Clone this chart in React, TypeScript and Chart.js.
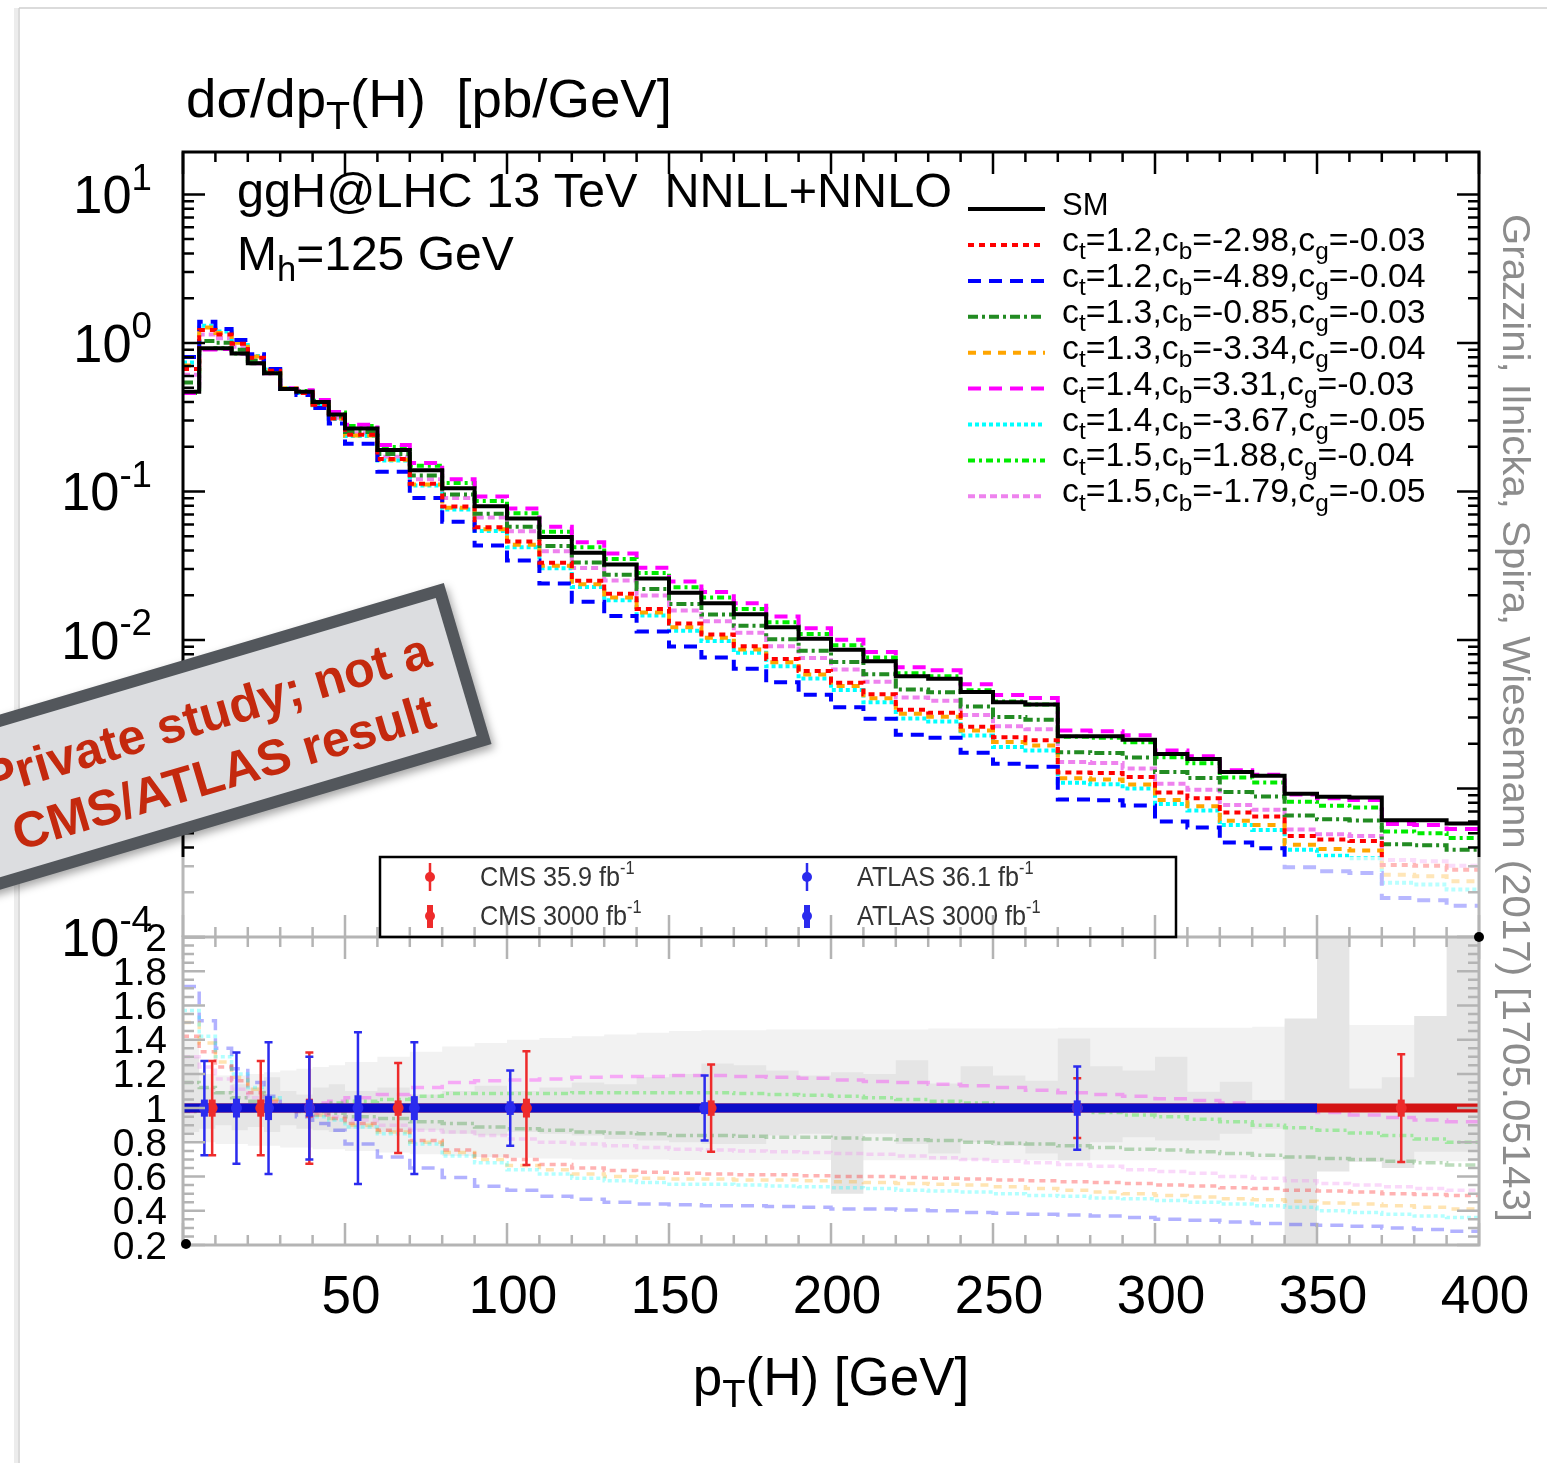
import React, { useEffect, useRef } from "react";
import { Chart, registerables } from "chart.js";

Chart.register(...registerables);

const W = 1547;
const H = 1463;
const FONT = '"Liberation Sans", Arial, Helvetica, sans-serif';

// ---------------- data ----------------
// pT(H) bin edges [GeV]
const binEdges = [0, 5, 10, 15, 20, 25, 30, 35, 40, 45, 50, 60, 70, 80, 90, 100, 110, 120, 130, 140, 150, 160, 170, 180, 190, 200, 210, 220, 230, 240, 250, 260, 270, 280, 290, 300, 310, 320, 330, 340, 350, 360, 370, 380, 390, 400];

// SM dsigma/dpT [pb/GeV] per bin
const smXsec = [0.47, 0.92, 0.92, 0.85, 0.73, 0.625, 0.49, 0.47, 0.40, 0.33, 0.265, 0.19, 0.139, 0.105, 0.0796, 0.0658, 0.0494, 0.0386, 0.0322, 0.0259, 0.0208, 0.0177, 0.0149, 0.0122, 0.0102, 0.0086, 0.00718, 0.00569, 0.00548, 0.00446, 0.00381, 0.00368, 0.00225, 0.00225, 0.00213, 0.00171, 0.00158, 0.00129, 0.00122, 0.00092, 0.00088, 0.00087, 0.00061, 0.00061, 0.00058];

// ratio to SM per bin for each coupling point (legend order)
const ratioCt12Cb298 = [1.42, 1.33, 1.24, 1.16, 1.09, 1.04, 1.0, 0.98, 0.96, 0.94, 0.91, 0.87, 0.81, 0.755, 0.72, 0.70, 0.67, 0.65, 0.635, 0.625, 0.62, 0.615, 0.61, 0.61, 0.605, 0.60, 0.60, 0.595, 0.59, 0.585, 0.58, 0.575, 0.57, 0.565, 0.56, 0.55, 0.545, 0.535, 0.53, 0.52, 0.515, 0.51, 0.50, 0.495, 0.49];
const ratioCt12Cb489 = [1.71, 1.51, 1.35, 1.23, 1.15, 1.07, 1.0, 0.95, 0.91, 0.87, 0.79, 0.715, 0.65, 0.595, 0.544, 0.52, 0.485, 0.468, 0.45, 0.44, 0.435, 0.43, 0.43, 0.425, 0.42, 0.41, 0.41, 0.405, 0.40, 0.39, 0.385, 0.38, 0.375, 0.37, 0.36, 0.35, 0.345, 0.335, 0.325, 0.32, 0.315, 0.31, 0.30, 0.29, 0.28];
const ratioCt13Cb085 = [1.15, 1.12, 1.09, 1.06, 1.04, 1.02, 1.0, 0.99, 0.98, 0.97, 0.95, 0.94, 0.92, 0.91, 0.89, 0.88, 0.87, 0.86, 0.855, 0.85, 0.84, 0.84, 0.835, 0.83, 0.83, 0.825, 0.82, 0.815, 0.81, 0.80, 0.795, 0.79, 0.78, 0.77, 0.76, 0.755, 0.745, 0.735, 0.725, 0.715, 0.705, 0.70, 0.69, 0.68, 0.667];
const ratioCt13Cb334 = [1.50, 1.38, 1.27, 1.18, 1.11, 1.05, 1.01, 0.98, 0.96, 0.94, 0.90, 0.86, 0.80, 0.74, 0.70, 0.665, 0.64, 0.615, 0.60, 0.59, 0.585, 0.585, 0.58, 0.58, 0.575, 0.57, 0.565, 0.56, 0.555, 0.55, 0.54, 0.53, 0.52, 0.51, 0.50, 0.49, 0.48, 0.47, 0.465, 0.455, 0.445, 0.44, 0.43, 0.42, 0.41];
const ratioCt14Cb331 = [0.98, 0.98, 0.99, 1.0, 1.0, 1.0, 1.01, 1.02, 1.03, 1.04, 1.06, 1.08, 1.12, 1.15, 1.16, 1.165, 1.17, 1.18, 1.185, 1.185, 1.19, 1.19, 1.185, 1.18, 1.175, 1.165, 1.155, 1.15, 1.14, 1.13, 1.12, 1.105, 1.09, 1.08, 1.07, 1.055, 1.045, 1.03, 1.015, 0.99, 0.975, 0.96, 0.945, 0.93, 0.92];
const ratioCt14Cb367 = [1.57, 1.42, 1.30, 1.20, 1.12, 1.06, 1.01, 0.98, 0.95, 0.93, 0.89, 0.85, 0.79, 0.72, 0.68, 0.64, 0.615, 0.59, 0.575, 0.565, 0.555, 0.555, 0.55, 0.545, 0.54, 0.535, 0.53, 0.52, 0.515, 0.51, 0.50, 0.49, 0.485, 0.475, 0.47, 0.46, 0.45, 0.44, 0.43, 0.42, 0.40, 0.39, 0.38, 0.37, 0.36];
const ratioCt15Cb188 = [0.98, 0.99, 1.0, 1.0, 1.0, 1.0, 1.0, 1.01, 1.02, 1.03, 1.04, 1.05, 1.07, 1.085, 1.085, 1.085, 1.085, 1.09, 1.09, 1.09, 1.09, 1.09, 1.085, 1.08, 1.075, 1.07, 1.06, 1.05, 1.04, 1.03, 1.01, 1.0, 0.99, 0.975, 0.96, 0.95, 0.935, 0.92, 0.90, 0.885, 0.87, 0.855, 0.84, 0.82, 0.80];
const ratioCt15Cb179 = [1.30, 1.24, 1.17, 1.11, 1.06, 1.03, 1.0, 0.99, 0.97, 0.95, 0.93, 0.90, 0.87, 0.86, 0.84, 0.82, 0.80, 0.79, 0.78, 0.77, 0.76, 0.755, 0.75, 0.745, 0.74, 0.735, 0.73, 0.72, 0.71, 0.70, 0.69, 0.68, 0.67, 0.66, 0.64, 0.63, 0.62, 0.60, 0.59, 0.575, 0.56, 0.55, 0.54, 0.53, 0.52];

const ctValues = ["1.2", "1.2", "1.3", "1.3", "1.4", "1.4", "1.5", "1.5"];
const cbValues = ["-2.98", "-4.89", "-0.85", "-3.34", "3.31", "-3.67", "1.88", "-1.79"];
const cgValues = ["-0.03", "-0.04", "-0.03", "-0.04", "-0.03", "-0.05", "-0.04", "-0.05"];

// uncertainty bands in ratio panel (per bin)
const scaleBandUp = [1.40, 1.20, 1.19, 1.19, 1.20, 1.21, 1.22, 1.23, 1.24, 1.25, 1.27, 1.30, 1.33, 1.36, 1.38, 1.40, 1.41, 1.42, 1.43, 1.44, 1.45, 1.455, 1.455, 1.46, 1.46, 1.46, 1.46, 1.46, 1.465, 1.465, 1.465, 1.465, 1.47, 1.47, 1.47, 1.47, 1.47, 1.47, 1.475, 1.49, 1.49, 1.485, 1.485, 1.49, 1.49];
const scaleBandDown = [0.80, 0.80, 0.79, 0.79, 0.78, 0.78, 0.77, 0.77, 0.76, 0.76, 0.75, 0.74, 0.73, 0.72, 0.715, 0.71, 0.705, 0.70, 0.70, 0.70, 0.697, 0.697, 0.697, 0.697, 0.697, 0.697, 0.696, 0.696, 0.696, 0.696, 0.696, 0.696, 0.696, 0.696, 0.696, 0.696, 0.696, 0.696, 0.696, 0.69, 0.69, 0.69, 0.69, 0.69, 0.69];
const statBandUp = [1.30, 1.12, 1.10, 1.14, 1.12, 1.18, 1.10, 1.08, 1.12, 1.14, 1.10, 1.12, 1.08, 1.10, 1.13, 1.10, 1.12, 1.15, 1.14, 1.18, 1.20, 1.26, 1.25, 1.22, 1.19, 1.21, 1.20, 1.28, 1.144, 1.245, 1.19, 1.16, 1.407, 1.245, 1.22, 1.30, 1.095, 1.154, 1.047, 1.524, 2.1, 1.115, 1.18, 1.538, 2.1];
const statBandDown = [0.86, 0.88, 0.90, 0.87, 0.89, 0.86, 0.90, 0.88, 0.87, 0.86, 0.88, 0.86, 0.87, 0.85, 0.84, 0.86, 0.85, 0.84, 0.82, 0.81, 0.80, 0.79, 0.79, 0.84, 0.85, 0.50, 0.85, 0.79, 0.735, 0.80, 0.78, 0.735, 0.696, 0.80, 0.83, 0.81, 0.81, 0.85, 0.88, 0.1, 0.63, 0.686, 0.65, 0.745, 0.745];

// projected measurements (ratio = 1) with errors
const atlasPt = [6.6, 16.5, 26.4, 39, 54, 71.4, 101, 161, 276];
const atlasErr36 = [0.275, 0.325, 0.385, 0.30, 0.443, 0.385, 0.22, 0.19, 0.243];
const atlasErr3000 = [0.05, 0.055, 0.07, 0.05, 0.075, 0.07, 0.04, 0.035, 0.045];
const cmsPt = [9, 24, 39, 66.4, 106, 163, 276, 376];
const cmsErr359 = [0.275, 0.275, 0.325, 0.263, 0.333, 0.255, 0.175, 0.315];
const cmsErr3000 = [0.05, 0.05, 0.055, 0.045, 0.055, 0.045, 0.03, 0.05];
const atlasRange = [0, 350];
const cmsRange = [0, 400];

// axes
const xMin = 0, xMax = 400;
const yMin = 1e-4, yMax = 19.3;
const rMin = 0.2, rMax = 2;
const xTickLabels = [50, 100, 150, 200, 250, 300, 350, 400];
const yDecades = [1, 0, -1, -2, -3, -4];
const ratioTickLabels = ["2", "1.8", "1.6", "1.4", "1.2", "1", "0.8", "0.6", "0.4", "0.2"];

// ---------------- styles ----------------
const bsmStyles = [
  { rgb: [255, 0, 0], dash: [6, 5] },
  { rgb: [0, 0, 255], dash: [13, 8] },
  { rgb: [34, 139, 34], dash: [10, 4, 3, 4] },
  { rgb: [255, 165, 0], dash: [8, 7] },
  { rgb: [255, 0, 255], dash: [13, 8] },
  { rgb: [0, 255, 255], dash: [4, 3] },
  { rgb: [0, 235, 0], dash: [7, 4, 3, 4] },
  { rgb: [238, 130, 238], dash: [7, 4] },
];
const bsmRatios = [ratioCt12Cb298, ratioCt12Cb489, ratioCt13Cb085, ratioCt13Cb334, ratioCt14Cb331, ratioCt14Cb367, ratioCt15Cb188, ratioCt15Cb179];
const CMS_COL = "#ee2b2b";
const ATLAS_COL = "#2b2bee";
const rgba = (c: number[], a: number) => `rgba(${c[0]},${c[1]},${c[2]},${a})`;

const stepData = (vals: number[]) => binEdges.map((e, i) => ({ x: e, y: vals[Math.min(i, vals.length - 1)] }));

type Part = { t: string; s?: "sub" | "sup" };
function drawRich(ctx: CanvasRenderingContext2D, parts: Part[], x: number, y: number, size: number, o: any = {}) {
  const align = o.align || "left";
  const small = o.small || 0.72;
  const subDy = o.subDy ?? 0.25;
  const supDy = o.supDy ?? -0.42;
  const bold = o.bold ? "bold " : "";
  const fBig = `${bold}${size}px ${FONT}`;
  const fSmall = `${bold}${size * small}px ${FONT}`;
  ctx.save();
  let total = 0;
  const ws = parts.map((p) => {
    ctx.font = p.s ? fSmall : fBig;
    const w = ctx.measureText(p.t).width;
    total += w;
    return w;
  });
  let sx = o.sx || 1;
  if (o.width) sx = o.width / total;
  const tw = total * sx;
  const x0 = align === "left" ? x : align === "center" ? x - tw / 2 : x - tw;
  ctx.translate(x0, y);
  ctx.scale(sx, 1);
  ctx.fillStyle = o.color || "#000";
  ctx.textAlign = "left";
  ctx.textBaseline = "alphabetic";
  let cx = 0;
  parts.forEach((p, i) => {
    ctx.font = p.s ? fSmall : fBig;
    const dy = p.s === "sub" ? size * subDy : p.s === "sup" ? size * supDy : 0;
    ctx.fillText(p.t, cx, dy);
    cx += ws[i];
  });
  ctx.restore();
  return tw;
}

function seg(ctx: CanvasRenderingContext2D, x1: number, y1: number, x2: number, y2: number) {
  ctx.moveTo(x1, y1);
  ctx.lineTo(x2, y2);
}

const LEG_TOP = 857;

const topPlugin = {
  id: "topDecor",
  afterDraw(chart: any) {
    const { ctx, chartArea: a } = chart;
    const xs = chart.scales.x, ys = chart.scales.y;
    ctx.save();
    ctx.strokeStyle = "#000";
    ctx.lineWidth = 2.5;
    ctx.beginPath();
    for (let e = -4; e <= 1; e++) {
      for (let m = 1; m <= 9; m++) {
        const v = m * Math.pow(10, e);
        if (v > yMax) continue;
        const py = ys.getPixelForValue(v);
        const len = m === 1 ? 22 : 11;
        seg(ctx, a.left, py, a.left + len, py);
        seg(ctx, a.right, py, a.right - len, py);
      }
    }
    for (let v = xMin; v <= xMax; v += 10) {
      const px = xs.getPixelForValue(v);
      seg(ctx, px, a.top, px, a.top + (v % 50 === 0 ? 22 : 10));
    }
    ctx.stroke();
    ctx.lineWidth = 3;
    ctx.beginPath();
    ctx.moveTo(a.left, a.bottom);
    ctx.lineTo(a.left, a.top);
    ctx.lineTo(a.right, a.top);
    ctx.lineTo(a.right, a.bottom);
    ctx.stroke();

    // y labels
    yDecades.forEach((e) => {
      const py = ys.getPixelForValue(Math.pow(10, e));
      drawRich(ctx, [{ t: "10" }, { t: String(e), s: "sup" }], 152, py + 19, 54, { align: "right", sx: 0.97, small: 0.7, supDy: -0.44 });
    });

    // fading overlay at the bottom of the upper panel
    ctx.fillStyle = "rgba(255,255,255,0.72)";
    ctx.fillRect(a.left - 6, LEG_TOP, a.right - a.left + 14, a.bottom - LEG_TOP);

    // title & labels
    drawRich(ctx, [{ t: "d\u03c3/dp" }, { t: "T", s: "sub" }, { t: "(H)  [pb/GeV]" }], 186, 117, 54, { width: 486, subDy: 0.22 });
    drawRich(ctx, [{ t: "ggH@LHC 13 TeV  NNLL+NNLO" }], 237, 207, 48, { width: 715 });
    drawRich(ctx, [{ t: "M" }, { t: "h", s: "sub" }, { t: "=125 GeV" }], 237, 270, 48, { small: 0.72, subDy: 0.22 });

    // upper legend
    const lx1 = 968, lx2 = 1045, tx = 1062;
    ctx.lineWidth = 4;
    ctx.setLineDash([]);
    ctx.strokeStyle = "#000";
    ctx.beginPath();
    seg(ctx, lx1, 209, lx2, 209);
    ctx.stroke();
    drawRich(ctx, [{ t: "SM" }], tx, 215, 31);
    bsmStyles.forEach((s, k) => {
      const ly = 245 + 35.9 * k;
      ctx.strokeStyle = rgba(s.rgb, 1);
      ctx.setLineDash(s.dash);
      ctx.beginPath();
      seg(ctx, lx1, ly, lx2, ly);
      ctx.stroke();
      ctx.setLineDash([]);
      drawRich(
        ctx,
        [{ t: "c" }, { t: "t", s: "sub" }, { t: "=" + ctValues[k] + ",c" }, { t: "b", s: "sub" }, { t: "=" + cbValues[k] + ",c" }, { t: "g", s: "sub" }, { t: "=" + cgValues[k] }],
        tx, 251 + 35.9 * k, 33.8, { small: 0.72, subDy: 0.25 }
      );
    });
    ctx.restore();
  },
};

const botPlugin = {
  id: "botDecor",
  afterDatasetsDraw(chart: any) {
    const { ctx } = chart;
    const xs = chart.scales.x, ys = chart.scales.y;
    ctx.save();
    const bars = (pts: number[], e1: number[], e2: number[], col: string) => {
      ctx.strokeStyle = col;
      pts.forEach((pt, i) => {
        const px = xs.getPixelForValue(pt);
        const yt = ys.getPixelForValue(1 + e1[i]);
        const yb = ys.getPixelForValue(1 - e1[i]);
        ctx.lineWidth = 2.5;
        ctx.beginPath();
        seg(ctx, px, yt, px, yb);
        seg(ctx, px - 4, yt, px + 4, yt);
        seg(ctx, px - 4, yb, px + 4, yb);
        ctx.stroke();
        ctx.lineWidth = 7;
        ctx.beginPath();
        seg(ctx, px, ys.getPixelForValue(1 + e2[i]), px, ys.getPixelForValue(1 - e2[i]));
        ctx.stroke();
      });
    };
    bars(cmsPt, cmsErr359, cmsErr3000, CMS_COL);
    bars(atlasPt, atlasErr36, atlasErr3000, ATLAS_COL);
    ctx.restore();
  },
  afterDraw(chart: any) {
    const { ctx, chartArea: a } = chart;
    const xs = chart.scales.x, ys = chart.scales.y;
    ctx.save();
    // gray ticks & frame of ratio panel
    ctx.strokeStyle = "#b4b4b4";
    ctx.lineWidth = 2.5;
    ctx.beginPath();
    for (let i = 0; i <= 36; i++) {
      const v = rMin + i * 0.05;
      const py = ys.getPixelForValue(v);
      const len = i % 4 === 0 ? 22 : 11;
      seg(ctx, a.left, py, a.left + len, py);
      seg(ctx, a.right, py, a.right - len, py);
    }
    for (let v = xMin; v <= xMax; v += 10) {
      const px = xs.getPixelForValue(v);
      const len = v % 50 === 0 ? 22 : 10;
      seg(ctx, px, a.bottom, px, a.bottom - len);
      seg(ctx, px, a.top, px, a.top + len);
      seg(ctx, px, a.top, px, a.top - len);
    }
    ctx.stroke();
    ctx.lineWidth = 3;
    ctx.strokeRect(a.left, a.top, a.right - a.left, a.bottom - a.top);

    // ratio labels
    ratioTickLabels.forEach((lab) => {
      const py = ys.getPixelForValue(parseFloat(lab));
      drawRich(ctx, [{ t: lab }], 167, py + 13.5, 39, { align: "right" });
    });
    // x labels
    xTickLabels.forEach((v) => {
      drawRich(ctx, [{ t: String(v) }], xs.getPixelForValue(v) + 6, 1313, 53, { align: "center" });
    });
    drawRich(ctx, [{ t: "p" }, { t: "T", s: "sub" }, { t: "(H) [GeV]" }], 831, 1395, 53, { align: "center", subDy: 0.22 });

    // corner dots
    ctx.fillStyle = "#000";
    ctx.beginPath();
    ctx.arc(xs.getPixelForValue(xMin) + 3, ys.getPixelForValue(rMin) - 1, 5, 0, Math.PI * 2);
    ctx.fill();
    ctx.beginPath();
    ctx.arc(xs.getPixelForValue(xMax), ys.getPixelForValue(rMax), 5, 0, Math.PI * 2);
    ctx.fill();

    // lower legend box
    const bx1 = 380, bx2 = 1176, by1 = LEG_TOP, by2 = a.top;
    ctx.strokeStyle = "#000";
    ctx.lineWidth = 2.5;
    ctx.strokeRect(bx1, by1, bx2 - bx1, by2 - by1);
    const legEntry = (mx: number, my: number, thick: boolean, col: string, txt: string) => {
      ctx.strokeStyle = col;
      ctx.fillStyle = col;
      ctx.lineWidth = thick ? 6 : 2.5;
      ctx.beginPath();
      seg(ctx, mx, my - (thick ? 11 : 14), mx, my + (thick ? 12 : 14));
      ctx.stroke();
      ctx.beginPath();
      ctx.arc(mx, my, 5, 0, Math.PI * 2);
      ctx.fill();
      drawRich(ctx, [{ t: txt }, { t: "-1", s: "sup" }], mx + 50, my + 9, 28, { sx: 0.9, color: "#333", small: 0.65, supDy: -0.42 });
    };
    legEntry(430, 877, false, CMS_COL, "CMS 35.9 fb");
    legEntry(430, 916, true, CMS_COL, "CMS 3000 fb");
    legEntry(807, 877, false, ATLAS_COL, "ATLAS 36.1 fb");
    legEntry(807, 916, true, ATLAS_COL, "ATLAS 3000 fb");

    // vertical reference text
    ctx.save();
    ctx.translate(1503, 214);
    ctx.rotate(Math.PI / 2);
    drawRich(ctx, [{ t: "Grazzini, Ilnicka, Spira, Wiesemann (2017) [1705.05143]" }], 0, 0, 38, { width: 1008, color: "#8c8c8c" });
    ctx.restore();

    // slide frame
    ctx.strokeStyle = "#ececec";
    ctx.lineWidth = 4;
    ctx.beginPath();
    seg(ctx, 16, 8, 16, H);
    ctx.stroke();
    ctx.strokeStyle = "#cfcfcf";
    ctx.lineWidth = 1.5;
    ctx.beginPath();
    seg(ctx, 19, 8, 19, H);
    seg(ctx, 19, 8, W, 8);
    ctx.stroke();

    // stamp
    ctx.save();
    ctx.translate(213.6, 738.8);
    ctx.rotate((-16.5 * Math.PI) / 180);
    ctx.shadowColor = "rgba(0,0,0,0.35)";
    ctx.shadowBlur = 8;
    ctx.shadowOffsetX = 3;
    ctx.shadowOffsetY = 4;
    ctx.fillStyle = "#53575c";
    ctx.fillRect(-340, -84, 605, 168);
    ctx.shadowColor = "rgba(0,0,0,0)";
    ctx.fillStyle = "#dcdde0";
    ctx.fillRect(-328, -72, 581, 144);
    ctx.fillStyle = "#c4290e";
    ctx.font = `bold 50px ${FONT}`;
    ctx.textAlign = "center";
    ctx.textBaseline = "alphabetic";
    ctx.fillText("Private study; not a", 0, -8);
    ctx.fillText("CMS/ATLAS result", 0, 52);
    ctx.restore();

    ctx.restore();
  },
};

function topConfig(): any {
  const datasets: any[] = [
    { data: stepData(smXsec), borderColor: "#000", borderWidth: 4, stepped: "before", pointRadius: 0, fill: false, order: 0 },
  ];
  bsmRatios.forEach((r, k) => {
    datasets.push({
      data: stepData(smXsec.map((v, i) => v * r[i])),
      borderColor: rgba(bsmStyles[k].rgb, 1),
      borderDash: bsmStyles[k].dash,
      borderWidth: 4,
      stepped: "before",
      pointRadius: 0,
      fill: false,
      order: k + 1,
    });
  });
  return {
    type: "line",
    data: { datasets },
    plugins: [topPlugin],
    options: {
      animation: false,
      responsive: false,
      devicePixelRatio: 1,
      events: [],
      layout: { padding: { left: 183, top: 152, right: W - 1479, bottom: H - 937 } },
      plugins: { legend: { display: false }, tooltip: { enabled: false } },
      scales: {
        x: { type: "linear", min: xMin, max: xMax, display: false },
        y: { type: "logarithmic", min: yMin, max: yMax, display: false },
      },
    },
  };
}

function botConfig(): any {
  const clear = "rgba(0,0,0,0)";
  const datasets: any[] = [
    { data: stepData(scaleBandUp), fill: "+1", backgroundColor: "#f2f2f2", borderColor: clear, borderWidth: 0, stepped: "before", pointRadius: 0, order: 100 },
    { data: stepData(scaleBandDown), fill: false, borderColor: clear, borderWidth: 0, stepped: "before", pointRadius: 0, order: 99 },
    { data: stepData(statBandUp), fill: "+1", backgroundColor: "#e5e5e5", borderColor: clear, borderWidth: 0, stepped: "before", pointRadius: 0, order: 98 },
    { data: stepData(statBandDown), fill: false, borderColor: clear, borderWidth: 0, stepped: "before", pointRadius: 0, order: 97 },
  ];
  bsmRatios.forEach((r, k) => {
    datasets.push({
      data: stepData(r),
      borderColor: rgba(bsmStyles[k].rgb, 0.3),
      borderDash: bsmStyles[k].dash,
      borderWidth: 3.5,
      stepped: "before",
      pointRadius: 0,
      fill: false,
      order: 50 - k,
    });
  });
  datasets.push({ data: cmsRange.map((x) => ({ x, y: 1 })), borderColor: "#d41414", borderWidth: 9, pointRadius: 0, fill: false, order: 10 });
  datasets.push({ data: atlasRange.map((x) => ({ x, y: 1 })), borderColor: "#0c0cc8", borderWidth: 9, pointRadius: 0, fill: false, order: 9 });
  datasets.push({ data: cmsPt.map((x) => ({ x, y: 1 })), showLine: false, pointRadius: 5.5, pointBackgroundColor: CMS_COL, pointBorderWidth: 0, order: 2 });
  datasets.push({ data: atlasPt.map((x) => ({ x, y: 1 })), showLine: false, pointRadius: 5.5, pointBackgroundColor: ATLAS_COL, pointBorderWidth: 0, order: 1 });
  return {
    type: "line",
    data: { datasets },
    plugins: [botPlugin],
    options: {
      animation: false,
      responsive: false,
      devicePixelRatio: 1,
      events: [],
      layout: { padding: { left: 183, top: 937, right: W - 1479, bottom: H - 1245 } },
      plugins: { legend: { display: false }, tooltip: { enabled: false }, filler: { propagate: false } },
      scales: {
        x: { type: "linear", min: xMin, max: xMax, display: false },
        y: { type: "linear", min: rMin, max: rMax, display: false },
      },
    },
  };
}

export default function App() {
  const topRef = useRef<HTMLCanvasElement>(null);
  const botRef = useRef<HTMLCanvasElement>(null);
  useEffect(() => {
    const c1 = new Chart(topRef.current as HTMLCanvasElement, topConfig());
    const c2 = new Chart(botRef.current as HTMLCanvasElement, botConfig());
    return () => {
      c1.destroy();
      c2.destroy();
    };
  }, []);
  return (
    <div style={{ position: "absolute", left: 0, top: 0, width: W, height: H, background: "#fff", overflow: "hidden" }}>
      <canvas ref={topRef} width={W} height={H} style={{ position: "absolute", left: 0, top: 0 }} />
      <canvas ref={botRef} width={W} height={H} style={{ position: "absolute", left: 0, top: 0 }} />
    </div>
  );
}
